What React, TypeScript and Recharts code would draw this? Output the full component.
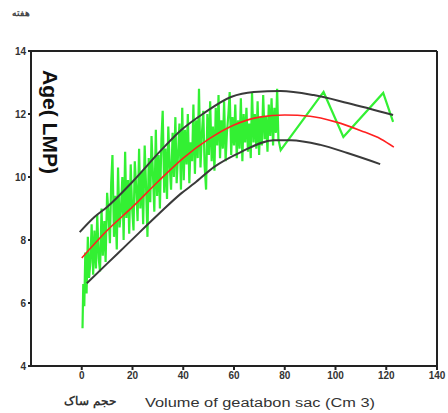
import { LineChart, Line, XAxis, YAxis, ReferenceLine, Label } from 'recharts'

const xTicks = [0, 20, 40, 60, 80, 100, 120, 140]
const yTicks = [4, 6, 8, 10, 12, 14]

// measured volume vs age (noisy green trace)
const greenPoints: [number, number][] = [
  [0.3, 5.2], [0.6, 6.6], [1.0, 5.9], [1.4, 7.6], [1.9, 6.3], [2.4, 8.1], [2.9, 6.8], [3.4, 7.3],
  [3.9, 8.5], [4.5, 6.9], [5.0, 8.3], [5.6, 7.1], [6.1, 8.8], [6.7, 7.4], [7.2, 7.0], [7.8, 9.0],
  [8.3, 7.5], [8.9, 8.6], [9.4, 7.3], [10.0, 9.5], [10.5, 8.9], [11.1, 7.9], [11.6, 9.8], [12.1, 10.7],
  [12.7, 8.1], [13.2, 9.4], [13.8, 7.7], [14.3, 10.3], [14.9, 8.4], [15.4, 8.9], [16.0, 10.0], [16.5, 8.0],
  [17.1, 10.8], [17.6, 8.7], [18.2, 9.9], [18.7, 8.2], [19.3, 10.4], [19.8, 9.1],
  [20.4, 8.3], [20.9, 10.5], [21.5, 9.6], [22.0, 8.6], [22.6, 10.9], [23.1, 9.0], [23.7, 10.2], [24.2, 8.5],
  [24.8, 11.0], [25.3, 9.8], [25.9, 8.1], [26.4, 10.6], [27.0, 9.2], [27.5, 11.3], [28.1, 10.0], [28.6, 8.9],
  [29.2, 11.5], [29.7, 9.4], [30.3, 10.7], [30.8, 9.0], [31.4, 11.2], [31.9, 12.1], [32.5, 9.5], [33.0, 10.9],
  [33.6, 9.3], [34.1, 11.6], [34.7, 10.3], [35.2, 9.6], [35.8, 11.4], [36.3, 10.0], [36.9, 11.9], [37.4, 9.8],
  [38.0, 10.8], [38.5, 11.7], [39.1, 9.6], [39.6, 12.2],
  [40.2, 9.9], [40.7, 11.5], [41.3, 10.4], [41.8, 12.0], [42.4, 9.8], [42.9, 11.1], [43.5, 10.5], [44.0, 12.3],
  [44.6, 10.1], [45.1, 11.8], [45.7, 10.6], [46.2, 12.8], [46.8, 10.3], [47.3, 11.3], [47.9, 12.1], [48.4, 10.4],
  [49.0, 9.6], [49.5, 12.0], [50.1, 10.7], [50.6, 12.4], [51.2, 10.5], [51.7, 11.6], [52.3, 10.2], [52.8, 12.2],
  [53.4, 11.0], [53.9, 12.6], [54.5, 10.6], [55.0, 11.8], [55.6, 10.9], [56.1, 12.4], [56.7, 10.5], [57.2, 11.4],
  [57.8, 12.0], [58.3, 12.7], [58.9, 10.7], [59.4, 11.9],
  [60.0, 11.0], [60.5, 12.3], [61.1, 10.6], [61.6, 11.8], [62.2, 10.9], [62.7, 12.5], [63.3, 10.5], [63.8, 12.0],
  [64.4, 11.1], [64.9, 12.2], [65.5, 10.8], [66.0, 11.7], [66.6, 10.6], [67.1, 12.7], [67.7, 11.1], [68.2, 12.0],
  [68.8, 10.9], [69.3, 12.4], [69.9, 10.7], [70.4, 11.9], [71.0, 11.0], [71.5, 12.6], [72.1, 11.2], [72.6, 11.9],
  [73.2, 10.8], [73.7, 12.3], [74.3, 11.3], [74.8, 12.5], [75.4, 11.0], [75.9, 12.2], [76.5, 11.4], [77.0, 12.8],
  [77.5, 11.2], [78.4, 10.85],
  [95.3, 12.7], [103.1, 11.27], [118.8, 12.67], [122.7, 11.75],
]

// fitted mean (red) and the two bounds (black)
const meanPoints: [number, number][] = [
  [0, 7.43], [10, 8.3], [20, 9.05], [30, 9.85], [40, 10.6], [50, 11.2], [60, 11.65],
  [70, 11.9], [80, 11.97], [90, 11.93], [100, 11.75], [110, 11.47], [118, 11.2], [123, 10.95],
]
const upperPoints: [number, number][] = [
  [-0.8, 8.25], [5, 8.73], [10, 9.05], [20, 9.85], [31.4, 10.86], [39.2, 11.49], [48.2, 12.03],
  [58.8, 12.54], [67.8, 12.7], [78.4, 12.73], [91.4, 12.6], [104.7, 12.35], [122.7, 11.97],
]
const lowerPoints: [number, number][] = [
  [2, 6.63], [10, 7.25], [18.4, 7.9], [30, 8.8], [39.2, 9.48], [44.4, 9.8], [52.2, 10.32],
  [62.7, 10.79], [75.7, 11.17], [82.4, 11.17], [94.1, 11.02], [104.7, 10.76], [117.6, 10.41],
]

const toRows = (pts: [number, number][]) => pts.map(([x, y]) => ({ x, y }))

const tickStyle = { fontSize: 10, fontWeight: 700, fill: '#333', fontFamily: 'Liberation Sans, Arial, sans-serif' }

export default function App() {
  return (
    <div style={{ position: 'absolute', left: 0, top: 0, width: 448, height: 413, background: '#fff' }}>
      <div style={{ position: 'absolute', left: 12, top: 6, fontSize: 9, fontWeight: 700, color: '#444', fontFamily: 'Noto Sans, sans-serif', direction: 'rtl' }}>
        هفته
      </div>
      <LineChart width={448} height={413} margin={{ top: 51, right: 11, left: 0, bottom: 0 }}>
        <XAxis
          type="number"
          dataKey="x"
          domain={[-20, 140]}
          ticks={xTicks}
          allowDataOverflow
          height={47}
          tick={tickStyle}
          tickSize={4}
          tickLine={{ stroke: '#222', strokeWidth: 2 }}
          axisLine={{ stroke: '#222', strokeWidth: 2 }}
        >
          <Label
            content={() => (
              <g>
                <text x={90} y={405} textAnchor="middle" fontSize={12} fontWeight={700} fill="#333" fontFamily="Noto Sans, sans-serif">
                  حجم ساک
                </text>
                <text x={145} y={407} fontSize={12} fill="#333" fontFamily="Liberation Sans, Arial, sans-serif" textLength={230} lengthAdjust="spacingAndGlyphs">
                  Volume of geatabon sac (Cm 3)
                </text>
              </g>
            )}
          />
        </XAxis>
        <YAxis
          type="number"
          domain={[4, 14]}
          ticks={yTicks}
          width={31}
          tick={tickStyle}
          tickSize={3}
          tickLine={{ stroke: '#222', strokeWidth: 2 }}
          axisLine={{ stroke: '#222', strokeWidth: 2 }}
        >
          <Label
            content={() => (
              <text
                x={0}
                y={0}
                transform="translate(43,70) rotate(90)"
                fontSize={20}
                fontWeight={700}
                fill="#111"
                fontFamily="Liberation Sans, Arial, sans-serif"
                textLength={104}
                lengthAdjust="spacingAndGlyphs"
              >
                Age( LMP)
              </text>
            )}
          />
        </YAxis>
        <ReferenceLine y={14} stroke="#222" strokeWidth={2} />
        <ReferenceLine x={140} stroke="#222" strokeWidth={2} />
        <Line data={toRows(greenPoints)} dataKey="y" type="linear" stroke="#33f033" strokeWidth={2.2} dot={false} isAnimationActive={false} />
        <Line data={toRows(upperPoints)} dataKey="y" type="monotone" stroke="#3a3a3a" strokeWidth={2} dot={false} isAnimationActive={false} />
        <Line data={toRows(lowerPoints)} dataKey="y" type="monotone" stroke="#3a3a3a" strokeWidth={2} dot={false} isAnimationActive={false} />
        <Line data={toRows(meanPoints)} dataKey="y" type="monotone" stroke="#ff2020" strokeWidth={1.6} dot={false} isAnimationActive={false} />
      </LineChart>
    </div>
  )
}
